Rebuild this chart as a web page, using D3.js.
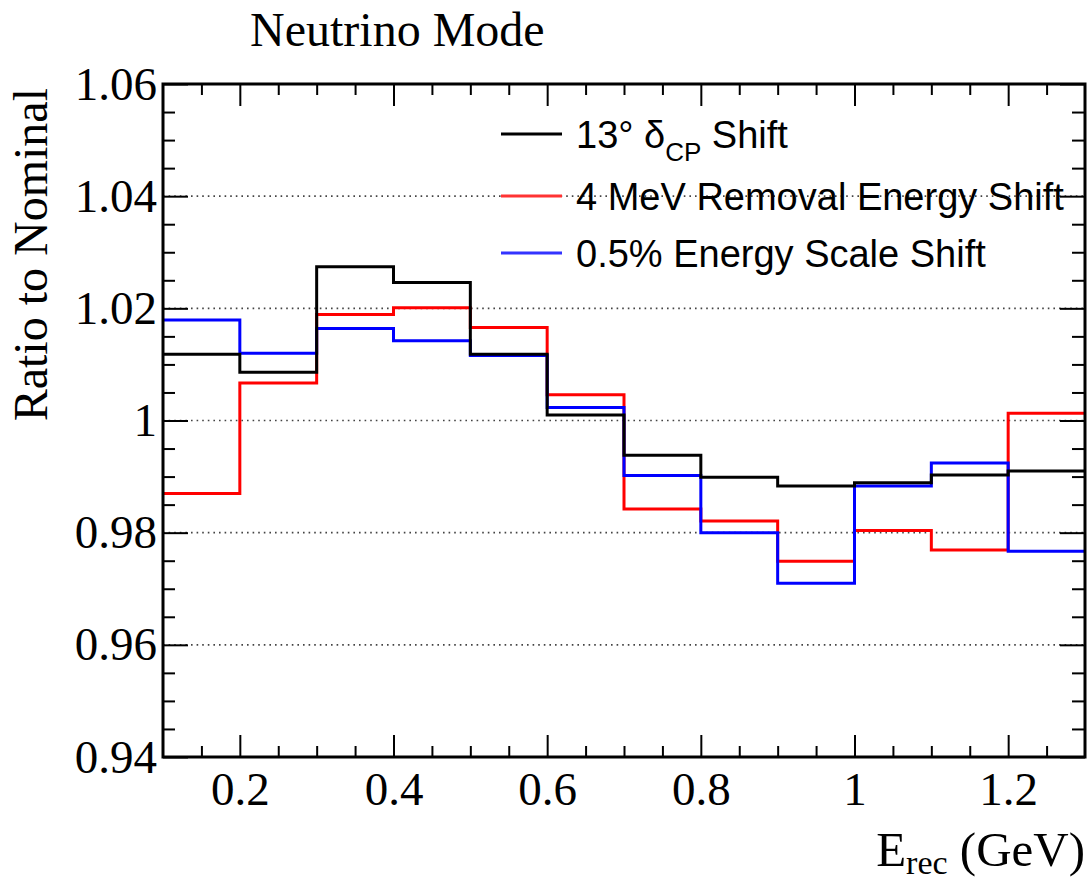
<!DOCTYPE html>
<html>
<head>
<meta charset="utf-8">
<script src="https://cdn.jsdelivr.net/npm/d3@7"></script>
<style>
  html, body { margin: 0; padding: 0; background: #fff; }
  svg { display: block; }
</style>
</head>
<body>
<svg id="chart" width="1088" height="883"></svg>
<script>
// Bin edges of the reconstructed-energy histogram (GeV)
const binEdges = [0.1, 0.2, 0.3, 0.4, 0.5, 0.6, 0.7, 0.8, 0.9, 1.0, 1.1, 1.2, 1.3];

// Ratio to nominal, one value per bin
const deltaCPShift = [1.0118, 1.0086, 1.0274, 1.0246, 1.0118, 1.0010, 0.9938, 0.9899, 0.9883, 0.9889, 0.9903, 0.9910];
const removalEnergyShift = [0.9870, 1.0067, 1.0189, 1.0201, 1.0166, 1.0046, 0.9842, 0.9821, 0.9749, 0.9804, 0.9769, 1.0013];
const energyScaleShift = [1.0179, 1.0120, 1.0164, 1.0142, 1.0116, 1.0023, 0.9902, 0.9800, 0.9710, 0.9883, 0.9924, 0.9767];

// Axis ticks
const xMajorTicks = [0.2, 0.4, 0.6, 0.8, 1.0, 1.2];
const xMinorTicks = [0.15, 0.25, 0.3, 0.35, 0.45, 0.5, 0.55, 0.65, 0.7, 0.75, 0.85, 0.9, 0.95, 1.05, 1.1, 1.15, 1.25];
const yMajorTicks = [0.94, 0.96, 0.98, 1.00, 1.02, 1.04, 1.06];
const yGridLines = [0.96, 0.98, 1.00, 1.02, 1.04];
const yMinorTicks = [];
for (let i = 0; i <= 24; i++) {
  const v = +(0.94 + i * 0.005).toFixed(3);
  if (!yMajorTicks.some(m => Math.abs(m - v) < 1e-9)) yMinorTicks.push(v);
}

const series = [
  { name: "removal", values: removalEnergyShift, color: "#ff0000" },
  { name: "scale", values: energyScaleShift, color: "#0000ff" },
  { name: "dcp", values: deltaCPShift, color: "#000000" }
];

const svg = d3.select("#chart");
const plotL = 163, plotR = 1085, plotT = 84, plotB = 757;

const x = d3.scaleLinear().domain([0.1, 1.3]).range([plotL, plotR]);
const y = d3.scaleLinear().domain([0.94, 1.06]).range([plotB, plotT]);

const serif = "'Liberation Serif', 'Times New Roman', serif";
const sans = "'Liberation Sans', Arial, Helvetica, sans-serif";
const fmt = d => String(+d.toFixed(2));

// Dotted horizontal grid
svg.append("g")
  .selectAll("line")
  .data(yGridLines)
  .join("line")
  .attr("x1", plotL).attr("x2", plotR)
  .attr("y1", d => y(d)).attr("y2", d => y(d))
  .attr("stroke", "#444")
  .attr("stroke-width", 1.6)
  .attr("stroke-dasharray", "1.6,4");

// Axes with inward ticks
function styleAxis(g) {
  g.select(".domain").remove();
  g.selectAll(".tick line").attr("stroke", "#000").attr("stroke-width", 2);
}

svg.append("g")
  .attr("transform", `translate(0,${plotB})`)
  .call(d3.axisBottom(x).tickValues(xMajorTicks).tickSize(-22).tickPadding(15).tickFormat(fmt))
  .call(styleAxis)
  .call(g => g.selectAll("text").attr("font-family", serif).attr("font-size", 47).attr("fill", "#000"));

svg.append("g")
  .attr("transform", `translate(0,${plotB})`)
  .call(d3.axisBottom(x).tickValues(xMinorTicks).tickSize(-11).tickFormat(""))
  .call(styleAxis);

svg.append("g")
  .attr("transform", `translate(0,${plotT})`)
  .call(d3.axisTop(x).tickValues(xMajorTicks).tickSize(-22).tickFormat(""))
  .call(styleAxis);

svg.append("g")
  .attr("transform", `translate(0,${plotT})`)
  .call(d3.axisTop(x).tickValues(xMinorTicks).tickSize(-11).tickFormat(""))
  .call(styleAxis);

svg.append("g")
  .attr("transform", `translate(${plotL},0)`)
  .call(d3.axisLeft(y).tickValues(yMajorTicks).tickSize(-25).tickPadding(6).tickFormat(fmt))
  .call(styleAxis)
  .call(g => g.selectAll("text").attr("font-family", serif).attr("font-size", 47).attr("fill", "#000"));

svg.append("g")
  .attr("transform", `translate(${plotL},0)`)
  .call(d3.axisLeft(y).tickValues(yMinorTicks).tickSize(-12).tickFormat(""))
  .call(styleAxis);

svg.append("g")
  .attr("transform", `translate(${plotR},0)`)
  .call(d3.axisRight(y).tickValues(yMajorTicks).tickSize(-25).tickFormat(""))
  .call(styleAxis);

svg.append("g")
  .attr("transform", `translate(${plotR},0)`)
  .call(d3.axisRight(y).tickValues(yMinorTicks).tickSize(-13).tickFormat(""))
  .call(styleAxis);

// Histograms drawn as step lines
const step = d3.line()
  .x(d => x(d[0]))
  .y(d => y(d[1]))
  .curve(d3.curveStepAfter);

svg.append("g")
  .selectAll("path")
  .data(series)
  .join("path")
  .attr("d", s => {
    const pts = s.values.map((v, i) => [binEdges[i], v]);
    pts.push([binEdges[binEdges.length - 1], s.values[s.values.length - 1]]);
    return step(pts);
  })
  .attr("fill", "none")
  .attr("stroke", s => s.color)
  .attr("stroke-width", 3);

// Frame
svg.append("rect")
  .attr("x", plotL).attr("y", plotT)
  .attr("width", plotR - plotL).attr("height", plotB - plotT)
  .attr("fill", "none")
  .attr("stroke", "#000")
  .attr("stroke-width", 3);

// Title
svg.append("text")
  .attr("x", 250).attr("y", 46)
  .attr("font-family", serif).attr("font-size", 48)
  .attr("fill", "#000")
  .text("Neutrino Mode");

// Y axis title
svg.append("text")
  .attr("transform", "translate(47,88) rotate(-90)")
  .attr("text-anchor", "end")
  .attr("font-family", serif).attr("font-size", 48)
  .attr("fill", "#000")
  .text("Ratio to Nominal");

// X axis title
const xt = svg.append("text")
  .attr("x", plotR).attr("y", 866)
  .attr("text-anchor", "end")
  .attr("font-family", serif).attr("font-size", 49)
  .attr("fill", "#000");
xt.append("tspan").text("E");
xt.append("tspan").attr("font-size", 34).attr("dy", 8).text("rec");
xt.append("tspan").attr("dy", -8).text(" (GeV)");

// Legend
const legendItems = [
  { color: "#000000", y: 134, parts: [["13° δ", 0, 38], ["CP", 13, 26], [" Shift", -13, 38]] },
  { color: "#ff3333", y: 196, parts: [["4 MeV Removal Energy Shift", 0, 38]] },
  { color: "#3333ff", y: 253, parts: [["0.5% Energy Scale Shift", 0, 38]] }
];

const legend = svg.append("g");
legendItems.forEach(item => {
  legend.append("line")
    .attr("x1", 501).attr("x2", 562)
    .attr("y1", item.y).attr("y2", item.y)
    .attr("stroke", item.color)
    .attr("stroke-width", 3);
  const t = legend.append("text")
    .attr("x", 576).attr("y", item.y + 14)
    .attr("font-family", sans)
    .attr("fill", "#000");
  item.parts.forEach(([s, dy, fs]) => {
    t.append("tspan").attr("dy", dy).attr("font-size", fs).text(s);
  });
});
</script>
</body>
</html>
